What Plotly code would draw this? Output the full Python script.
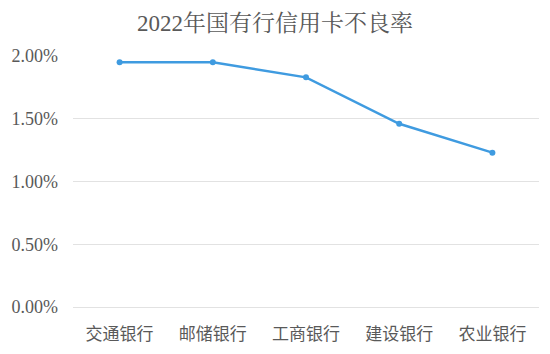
import plotly.graph_objects as go

banks = ["交通银行", "邮储银行", "工商银行", "建设银行", "农业银行"]
npl_rate = [0.0195, 0.0195, 0.0183, 0.0146, 0.0123]
y_ticks = [0, 0.005, 0.01, 0.015, 0.02]
title_text = "2022年国有行信用卡不良率"

fig = go.Figure(go.Scatter(
    x=banks, y=npl_rate, mode="lines+markers",
    line=dict(color="#3F9BE0", width=2.4),
    marker=dict(color="#3F9BE0", size=6),
    cliponaxis=False,
))
fig.update_layout(
    width=550, height=354,
    margin=dict(l=73, r=11, t=56, b=47, autoexpand=False),
    paper_bgcolor="white", plot_bgcolor="white",
    showlegend=False,
    title=dict(text=title_text, x=0.5, xanchor="center", y=0.935, yanchor="middle",
               font=dict(family="Liberation Serif, Noto Serif CJK SC, Noto Sans CJK SC", size=23, color="#595959")),
)
fig.update_yaxes(range=[0, 0.02], tickvals=y_ticks, tickformat=".2%", automargin=False,
                 showgrid=True, gridcolor="#E2E2E2", gridwidth=1,
                 zeroline=True, zerolinecolor="#E2E2E2", zerolinewidth=1,
                 showline=False, ticks="", ticklabelstandoff=14,
                 tickfont=dict(family="Liberation Serif", size=18, color="#595959"))
fig.update_xaxes(range=[-0.5, 4.5], showgrid=False, showline=False, ticks="", zeroline=False,
                 ticklabelstandoff=15, automargin=False,
                 tickfont=dict(family="Noto Sans CJK SC", size=17, color="#595959"))
fig.write_html("out.html")
